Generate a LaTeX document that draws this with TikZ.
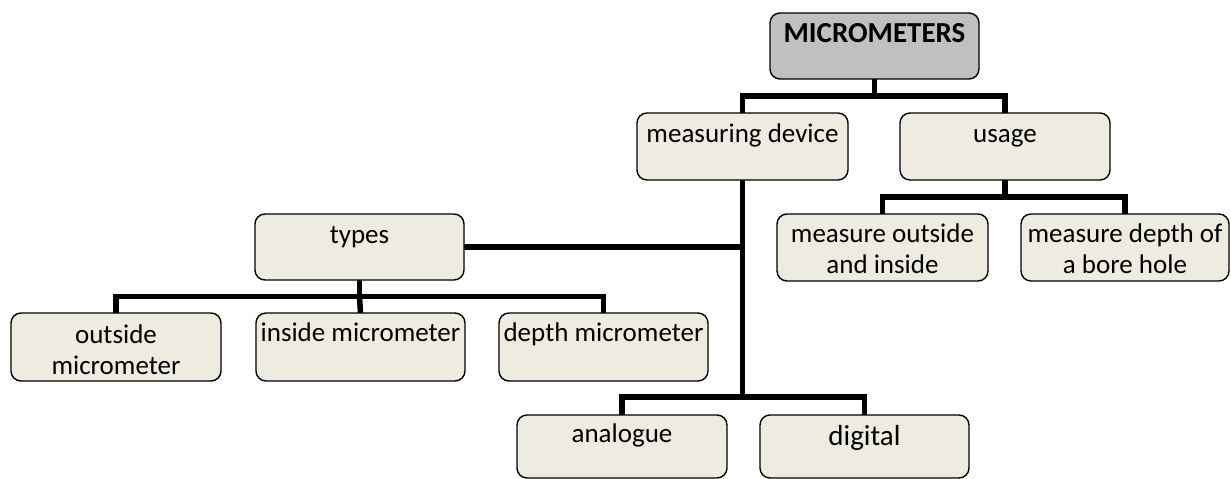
\documentclass[tikz,border=0pt]{standalone}
\usepackage{fontspec}
\setmainfont{Carlito}
\usetikzlibrary{calc,backgrounds}
\definecolor{cardfill}{HTML}{EEECE1}
\definecolor{rootfill}{HTML}{C0C0C0}
% #1 height, #2 width, #3 first-baseline drop, #4 text (top aligned, centred)
\newcommand{\cardtext}[4]{\parbox[t][#1][t]{#2}{\centering\rule{0pt}{#3}#4}}
\begin{document}
\begin{tikzpicture}[x=1pt,y=-1pt,
  card/.style={draw=black, line width=1.4pt, rounded corners=10pt, fill=cardfill,
    inner sep=0pt, outer sep=0pt, anchor=north west, font=\fontsize{27}{31}\selectfont},
  conn/.style={draw=black, line width=5.5pt, line join=miter}]
\useasboundingbox (0,0) rectangle (1231,479);

% root
\node[card, fill=rootfill] (mic) at (770,13)
  {\cardtext{66pt}{209pt}{29pt}{\fontsize{29}{34}\selectfont\bfseries MICROMETERS}};

% second level
\node[card] (md) at (637,113) {\cardtext{67pt}{211pt}{29pt}{measuring device}};
\node[card] (us) at (900,113) {\cardtext{67pt}{210pt}{29pt}{usage}};

% usage branch
\node[card] (mo) at (777,214) {\cardtext{67pt}{211pt}{28pt}{measure outside\\and inside}};
\node[card] (mb) at (1021,214) {\cardtext{67pt}{208pt}{28pt}{measure depth of\\a bore hole}};

% types branch
\node[card] (ty) at (255,214) {\cardtext{66pt}{209pt}{29pt}{types}};
\node[card] (om) at (11,313) {\cardtext{68pt}{210pt}{30pt}{outside\\micrometer}};
\node[card] (im) at (256,313) {\cardtext{68pt}{209pt}{28pt}{inside micrometer}};
\node[card] (dm) at (499,313) {\cardtext{68pt}{209pt}{28pt}{depth micrometer}};

% display branch
\node[card] (an) at (517,415) {\cardtext{63pt}{210pt}{27pt}{analogue}};
\node[card] (dg) at (760,415) {\cardtext{63pt}{209pt}{30pt}{\fontsize{29}{34}\selectfont digital}};

% junction points
\coordinate (j1) at ($(mic.south)!.5!(mic.south |- md.north)$);
\coordinate (j2) at ($(us.south)!.5!(us.south |- mo.north)$);
\coordinate (j3) at ($(ty.south)!.5!(ty.south |- om.north)$);
\coordinate (j4) at ($(md.south)+(0,217)$);

\begin{scope}[on background layer]
  \draw[conn] (mic.south) -- (j1);
  \draw[conn] (md.north) |- (j1) -| (us.north);
  \draw[conn] (us.south) -- (j2);
  \draw[conn] (mo.north) |- (j2) -| (mb.north);
  \draw[conn] (md.south) -- (j4);
  \draw[conn] (an.north) |- (j4) -| (dg.north);
  \draw[conn] (ty.east) -- (ty.east -| md.south);
  \draw[conn] (ty.south) -- (j3);
  \draw[conn] (om.north) |- (j3) -| (dm.north);
  \draw[conn] (im.north) -- (j3);
\end{scope}
\end{tikzpicture}
\end{document}
